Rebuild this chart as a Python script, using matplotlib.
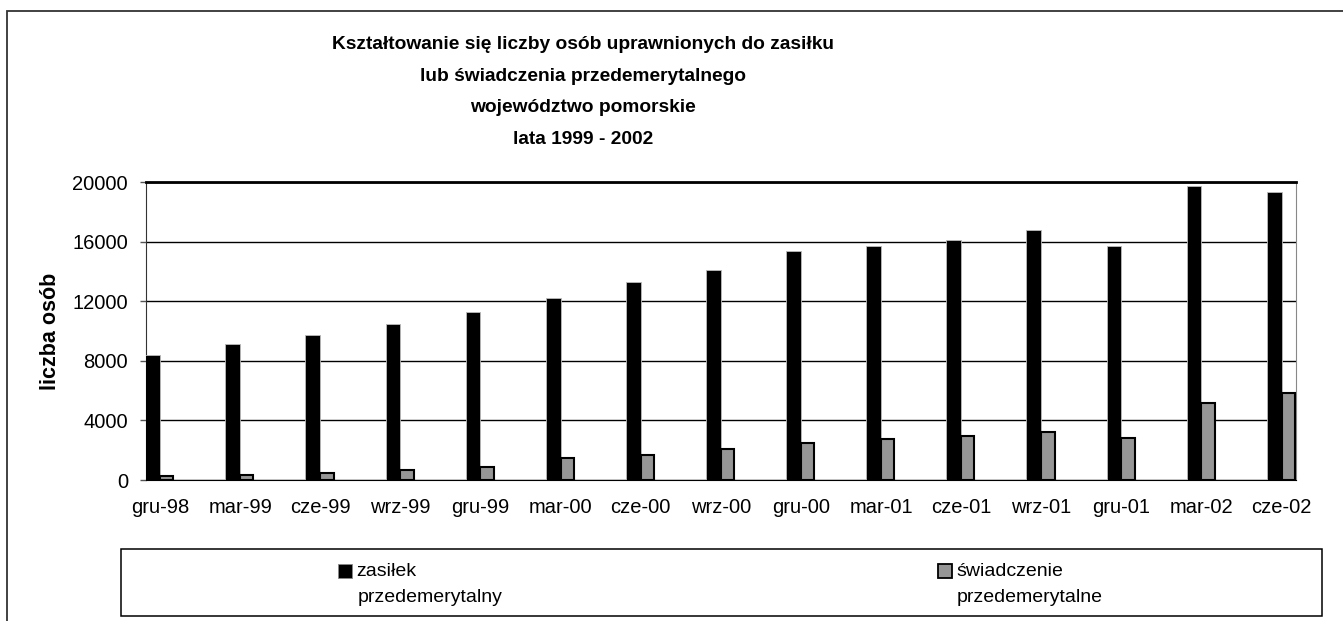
import matplotlib.pyplot as plt
import numpy as np
from matplotlib.patches import Rectangle

plt.rcParams['font.family'] = ['Liberation Sans', 'DejaVu Sans']

months = ['gru-98', 'mar-99', 'cze-99', 'wrz-99', 'gru-99', 'mar-00', 'cze-00', 'wrz-00',
          'gru-00', 'mar-01', 'cze-01', 'wrz-01', 'gru-01', 'mar-02', 'cze-02']
zasilek = [8400, 9100, 9700, 10500, 11300, 12200, 13300, 14100,
           15400, 15700, 16100, 16750, 15700, 19750, 19300]
swiadczenie = [300, 350, 500, 650, 850, 1500, 1650, 2050,
               2450, 2750, 2950, 3250, 2800, 5200, 5850]
yticks = [0, 4000, 8000, 12000, 16000, 20000]
title = ('Kształtowanie się liczby osób uprawnionych do zasiłku\n'
         'lub świadczenia przedemerytalnego\n'
         'województwo pomorskie\n'
         'lata 1999 - 2002')
grey = '#969696'

W, H = 1343, 621
fig = plt.figure(figsize=(W / 100, H / 100), dpi=100)
ax = fig.add_axes([146 / W, 1 - 480 / H, (1296 - 146) / W, (480 - 182) / H])

x = np.arange(len(months))
w = 0.185
ax.bar(x - w / 2, zasilek, w, color='black', edgecolor='#bbbbbb', linewidth=0.6, zorder=3)
ax.bar(x + w / 2 - 0.01, swiadczenie, w * 0.9, color=grey, edgecolor='black', linewidth=1.5, zorder=3)

ax.set_xlim(-0.175, 14.18)
ax.set_ylim(0, 20000)
ax.set_yticks(yticks)
ax.set_xticks(x)
ax.set_xticklabels(months)
ax.tick_params(axis='x', length=0, pad=13, labelsize=14.5)
ax.tick_params(axis='y', length=4, width=1, color='#555555', pad=9, labelsize=14.5)
ax.yaxis.grid(True, color='black', linewidth=1, zorder=0)
ax.set_axisbelow(True)
ax.spines['top'].set_linewidth(2)
ax.spines['top'].set_color('black')
ax.spines['right'].set_color('#888888')
ax.spines['left'].set_color('#333333')
ax.spines['bottom'].set_color('black')
ax.set_ylabel('liczba osób', fontsize=15.5, fontweight='bold', labelpad=8)

fig.text(583 / W, 1 - 36 / H, title, ha='center', va='top', fontsize=13.8,
         fontweight='bold', linespacing=2.12)

# outer frame
fig.patches.append(Rectangle((7 / W, -0.1), 1.2, 1 - 11 / H + 0.1, transform=fig.transFigure,
                             fill=False, edgecolor='#333333', linewidth=1.3))

# legend box
fig.patches.append(Rectangle((121 / W, 1 - 616 / H), (1322 - 121) / W, (616 - 549) / H,
                             transform=fig.transFigure, fill=False, edgecolor='black', linewidth=1.1))
fig.patches.append(Rectangle((338 / W, 1 - 578 / H), 14 / W, 14 / H, transform=fig.transFigure,
                             facecolor='black', edgecolor='#888888', linewidth=0.6))
fig.patches.append(Rectangle((938 / W, 1 - 578 / H), 14 / W, 14 / H, transform=fig.transFigure,
                             facecolor=grey, edgecolor='black', linewidth=1.3))
fig.text(356 / W, 1 - 571 / H, 'zasiłek', va='center', ha='left', fontsize=14)
fig.text(358 / W, 1 - 597 / H, 'przedemerytalny', va='center', ha='left', fontsize=14)
fig.text(956 / W, 1 - 571 / H, 'świadczenie', va='center', ha='left', fontsize=14)
fig.text(957 / W, 1 - 597 / H, 'przedemerytalne', va='center', ha='left', fontsize=14)

fig.savefig('out.png', dpi=100)
